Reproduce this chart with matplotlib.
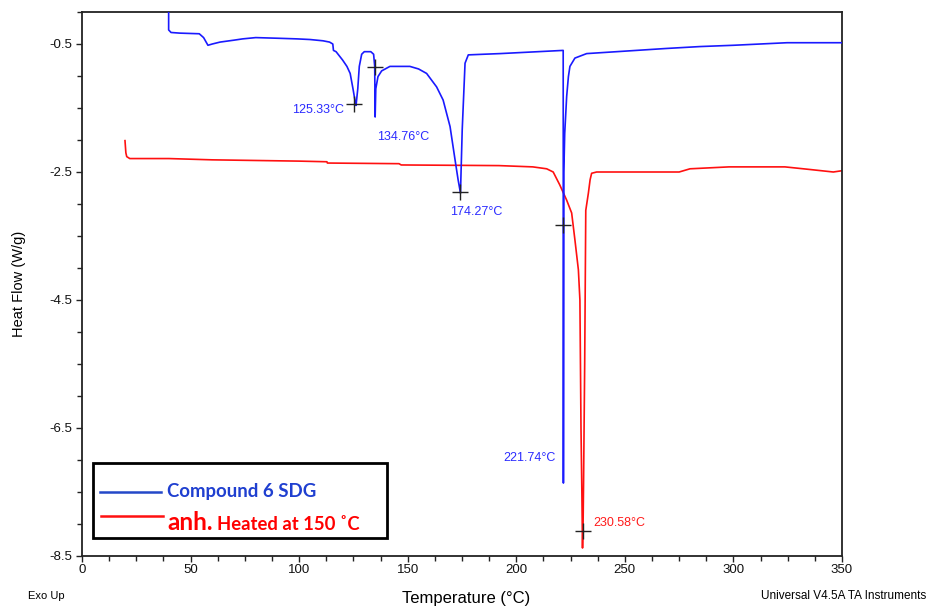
import matplotlib
matplotlib.use("Agg")
import matplotlib.pyplot as plt
from matplotlib.patches import Rectangle
from matplotlib.ticker import MultipleLocator

plt.rcParams['font.family'] = ['Liberation Sans', 'DejaVu Sans']

# ---- data ----
blue_T = [39.9, 39.9, 41, 45, 54, 56, 58, 60, 63.6, 70, 74, 80, 90, 99, 105, 111, 114,
          115.5, 115.8, 117, 120, 122, 123.5, 124.8, 125.7, 126.2, 127.0, 127.7, 128.8,
          130, 133, 134.3, 134.8, 135.0, 135.3, 136.3, 138, 141.8, 151, 155, 158.7,
          163.3, 166.3, 169.5, 171.8, 173.2, 174.3, 175.1, 176.4, 177.9, 185, 192.5,
          210, 221.6, 221.7, 221.9, 222.3, 223.2, 224, 224.7, 227, 232.4, 246.2, 269,
          284.6, 300, 324.7, 350]
blue_HF = [0.05, -0.28, -0.32, -0.33, -0.34, -0.40, -0.52, -0.50, -0.47, -0.44, -0.42,
           -0.40, -0.41, -0.42, -0.43, -0.45, -0.47, -0.50, -0.60, -0.62, -0.75, -0.85,
           -0.96, -1.20, -1.38, -1.46, -1.20, -0.85, -0.66, -0.62, -0.62, -0.66, -0.85,
           -1.64, -1.20, -1.01, -0.92, -0.85, -0.85, -0.89, -0.96, -1.17, -1.375, -1.79,
           -2.31, -2.62, -2.83, -1.84, -0.80, -0.67, -0.66, -0.65, -0.62, -0.60, -7.36,
           -2.50, -1.90, -1.32, -1.01, -0.85, -0.72, -0.65, -0.62, -0.57, -0.54, -0.52,
           -0.48, -0.48]

red_T = [19.8, 20.2, 20.6, 22, 40, 60, 80, 100, 112.8, 113, 146, 147, 192, 207.6, 214,
         217, 220, 223.2, 225.5, 227, 228.6, 229.3, 229.8, 230.2, 230.5, 230.8, 231.0,
         231.5, 232.0, 233.2, 234, 234.7, 237, 275, 280, 298, 323.7, 335, 346, 350]
red_HF = [-2.01, -2.20, -2.26, -2.29, -2.29, -2.31, -2.32, -2.33, -2.34, -2.36, -2.37,
          -2.39, -2.40, -2.42, -2.45, -2.50, -2.70, -2.94, -3.14, -3.56, -4.03, -4.50,
          -6.50, -7.50, -8.375, -7.90, -7.30, -5.50, -3.10, -2.83, -2.62, -2.52, -2.50,
          -2.50, -2.45, -2.42, -2.42, -2.46, -2.50, -2.48]

peak_T = [125.33, 134.76, 174.27, 221.74, 230.58]
peak_HF = [-1.43, -0.855, -2.81, -3.33, -8.11]
peak_labels = ["125.33°C", "134.76°C", "174.27°C", "221.74°C", "230.58°C"]
label_T = [96.6, 135.9, 169.5, 193.9, 235.3]
label_HF = [-1.53, -1.95, -3.12, -6.97, -7.98]
label_colors = ['#2b2bff', '#2b2bff', '#2b2bff', '#2b2bff', '#ff1a1a']

x_ticks = [0, 50, 100, 150, 200, 250, 300, 350]
y_ticks = [-0.5, -2.5, -4.5, -6.5, -8.5]

# ---- figure ----
fig = plt.figure(figsize=(9.27, 6.08), dpi=100)
ax = fig.add_axes([82/927, 1-556/608, 760/927, 544/608])

ax.plot(blue_T, blue_HF, color='#1a1aff', lw=1.2, zorder=3)
ax.plot(red_T, red_HF, color='#ff1010', lw=1.2, zorder=2)
ax.plot(peak_T, peak_HF, linestyle='none', marker='+', ms=12, mew=1.0,
        color='#222222', zorder=4)
for t, h, s, c in zip(label_T, label_HF, peak_labels, label_colors):
    ax.text(t, h, s, color=c, fontsize=9, ha='left', va='center', zorder=5)

ax.set_xlim(0, 350)
ax.set_ylim(-8.5, 0.0)
ax.set_xticks(x_ticks)
ax.set_xticklabels([str(v) for v in x_ticks])
ax.set_yticks(y_ticks)
ax.set_yticklabels([f"{v:.1f}" for v in y_ticks])
ax.xaxis.set_minor_locator(MultipleLocator(12.5))
ax.yaxis.set_minor_locator(MultipleLocator(0.5))
ax.tick_params(axis='both', which='major', length=4, width=1, labelsize=9.5,
               direction='out', color='#222222', labelcolor='#111111')
ax.tick_params(axis='both', which='minor', length=3.5, width=1, direction='out',
               color='#222222')
ax.tick_params(axis='x', pad=2)
ax.tick_params(axis='y', pad=3)
for sp in ax.spines.values():
    sp.set_linewidth(1.3)
    sp.set_color('#222222')

ax.set_ylabel("Heat Flow (W/g)", fontsize=10.5, labelpad=17)
fig.text(466/927, 1-598/608, "Temperature (°C)", fontsize=12, ha='center', va='center')
fig.text(28/927, 1-596/608, "Exo Up", fontsize=8, ha='left', va='center')
fig.text(926/927, 1-596/608, "Universal V4.5A TA Instruments", fontsize=8.5,
         ha='right', va='center')

# ---- legend box ----
lx0, lx1 = 0.0145, 0.401
ly0, ly1 = 0.0331, 0.171
ax.add_patch(Rectangle((lx0, ly0), lx1-lx0, ly1-ly0, transform=ax.transAxes,
                       facecolor='white', edgecolor='black', lw=2.0, zorder=6))
ax.plot([0.0237, 0.104], [0.118, 0.118], transform=ax.transAxes, color='#2448c8',
        lw=1.8, zorder=7)
ax.plot([0.025, 0.1066], [0.0735, 0.0735], transform=ax.transAxes, color='#ff1010',
        lw=1.8, zorder=7)
ax.text(0.112, 0.118, "Compound 6 SDG", transform=ax.transAxes, color='#1f3fd0',
        fontsize=13.4, fontweight='bold', family=['Lato', 'DejaVu Sans'],
        ha='left', va='center', zorder=8)
ax.text(0.112, 0.062, "anh.", transform=ax.transAxes, color='#ff0000',
        fontsize=17.5, fontweight='bold', family=['Lato', 'DejaVu Sans'],
        ha='left', va='center', zorder=8)
ax.text(0.177, 0.057, "Heated at 150 ˚C", transform=ax.transAxes, color='#ff0000',
        fontsize=13.3, fontweight='bold', family=['Lato', 'DejaVu Sans'],
        ha='left', va='center', zorder=8)

fig.savefig("out.png", dpi=100)
